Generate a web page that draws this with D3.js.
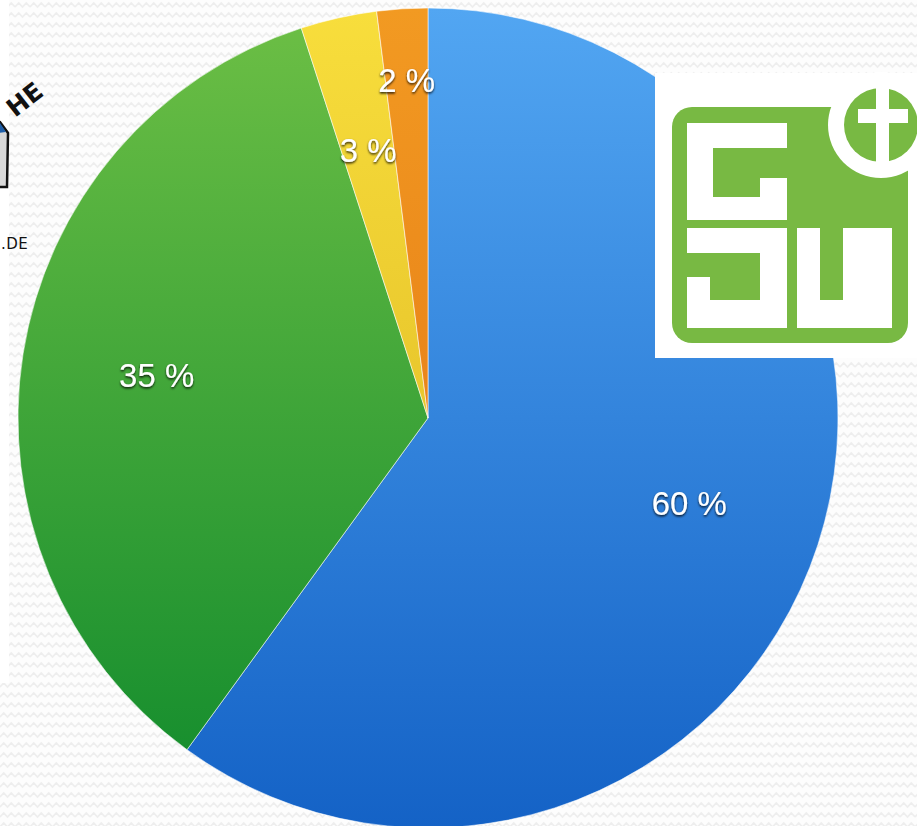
<!DOCTYPE html>
<html>
<head>
<meta charset="utf-8">
<script src="https://cdn.jsdelivr.net/npm/d3@7"></script>
<style>
  html, body { margin: 0; padding: 0; background: #fdfdfd; }
  svg { display: block; }
</style>
</head>
<body>
<svg id="chart" width="917" height="826"></svg>
<script>
// pie data, clockwise from 12 o'clock
var categories = ["A", "B", "C", "D"];
var values = [60, 35, 3, 2];
var labels = ["60 %", "35 %", "3 %", "2 %"];
var topColors = ["#52a6f2", "#6dbf45", "#f8de3c", "#f29a22"];
var bottomColors = ["#1462c6", "#0f8a2c", "#d8ae1c", "#e06e10"];

var svg = d3.select("#chart");
var W = 917, H = 826;
var cx = 428, cy = 418, R = 410;

var defs = svg.append("defs");

//zigzag background
var pat = defs.append("pattern")
    .attr("id", "zig")
    .attr("patternUnits", "userSpaceOnUse")
    .attr("width", 15)
    .attr("height", 10);
pat.append("rect").attr("width", 15).attr("height", 10).attr("fill", "#fdfdfd");
pat.append("path")
    .attr("d", "M0,7 L3.75,3 L7.5,7 L11.25,3 L15,7")
    .attr("fill", "none")
    .attr("stroke", "#eeeeee")
    .attr("stroke-width", 1.6);

svg.append("rect").attr("width", W).attr("height", H).attr("fill", "url(#zig)");
svg.append("rect").attr("x", 0).attr("y", 0).attr("width", 9).attr("height", 683).attr("fill", "#ffffff");

//gradient per slice, top to bottom of the pie (group coordinates)
categories.forEach(function(c, i) {
    var g = defs.append("linearGradient")
        .attr("id", "grad" + i)
        .attr("gradientUnits", "userSpaceOnUse")
        .attr("x1", 0).attr("y1", -R)
        .attr("x2", 0).attr("y2", R);
    g.append("stop").attr("offset", "0%").attr("stop-color", topColors[i]);
    g.append("stop").attr("offset", "100%").attr("stop-color", bottomColors[i]);
});

var shadow = defs.append("filter").attr("id", "txtShadow")
    .attr("x", "-20%").attr("y", "-20%").attr("width", "140%").attr("height", "160%");
shadow.append("feDropShadow")
    .attr("dx", 0).attr("dy", 1.5)
    .attr("stdDeviation", 1.1)
    .attr("flood-color", "#000")
    .attr("flood-opacity", 0.85);

//left logo fragment
var left = svg.append("g");
left.append("path")
    .attr("d", "M-20,116 L0,122 L8,133 L7,187 L-5,187 Z")
    .attr("fill", "#d8d8d8")
    .attr("stroke", "#111")
    .attr("stroke-width", 2.5);
left.append("path")
    .attr("d", "M-12,120 L0,123 L6,132 L-12,134 Z")
    .attr("fill", "#1f5fa8");
left.append("text")
    .attr("transform", "translate(15,118) rotate(-38)")
    .attr("font-family", "DejaVu Sans")
    .attr("font-weight", "bold")
    .attr("font-size", 25)
    .attr("fill", "#111")
    .text("HE");
left.append("text")
    .attr("x", 1)
    .attr("y", 249)
    .attr("font-family", "DejaVu Sans")
    .attr("font-size", 15)
    .attr("letter-spacing", 0.5)
    .attr("fill", "#111")
    .text(".DE");

//pie
var pie = d3.pie().sort(null).value(function(d) { return d; });
var arcs = pie(values);
var arc = d3.arc().innerRadius(0).outerRadius(R);

var g = svg.append("g").attr("transform", "translate(" + cx + "," + cy + ")");

g.selectAll("path.slice")
    .data(arcs)
    .enter()
    .append("path")
    .attr("class", "slice")
    .attr("d", arc)
    .attr("fill", function(d, i) { return "url(#grad" + i + ")"; })
    .attr("stroke", "rgba(255,255,255,0.55)")
    .attr("stroke-width", 1);

g.selectAll("text.lbl")
    .data(arcs)
    .enter()
    .append("text")
    .attr("class", "lbl")
    .attr("transform", function(d, i) {
        var a = (d.startAngle + d.endAngle) / 2;
        //the smallest slice sits its label further out
        var r = (i === arcs.length - 1) ? R * 0.825 : R * 0.67;
        return "translate(" + (Math.sin(a) * r) + "," + (-Math.cos(a) * r) + ")";
    })
    .attr("text-anchor", "middle")
    .attr("dy", "0.36em")
    .attr("font-family", "Liberation Sans, Arial, sans-serif")
    .attr("font-size", 33)
    .attr("fill", "#ffffff")
    .attr("filter", "url(#txtShadow)")
    .text(function(d, i) { return labels[i]; });

//right logo
var logo = svg.append("g");
logo.append("rect")
    .attr("x", 655).attr("y", 73)
    .attr("width", 262).attr("height", 285)
    .attr("fill", "#ffffff");
var green = "#78b943";
logo.append("rect")
    .attr("x", 672).attr("y", 107)
    .attr("width", 236).attr("height", 236)
    .attr("rx", 20)
    .attr("fill", green);
logo.append("circle").attr("cx", 881).attr("cy", 125).attr("r", 53).attr("fill", "#ffffff");
logo.append("circle").attr("cx", 881).attr("cy", 125).attr("r", 37).attr("fill", green);
logo.append("rect").attr("x", 876).attr("y", 86).attr("width", 13).attr("height", 78).attr("fill", "#ffffff");
logo.append("rect").attr("x", 858).attr("y", 109).attr("width", 50).attr("height", 14).attr("fill", "#ffffff");

// G
logo.append("path")
    .attr("d", "M687,123 H787 V148 H713 V197 H760 V178 H787 V220 H687 Z")
    .attr("fill", "#ffffff");
// J
logo.append("path")
    .attr("d", "M687,228 H787 V328 H687 V277 H710 V300 H760 V253 H687 Z")
    .attr("fill", "#ffffff");
// W
logo.append("path")
    .attr("d", "M797,228 H820 V300 H843 V228 H892 V328 H797 Z")
    .attr("fill", "#ffffff");
</script>
</body>
</html>
